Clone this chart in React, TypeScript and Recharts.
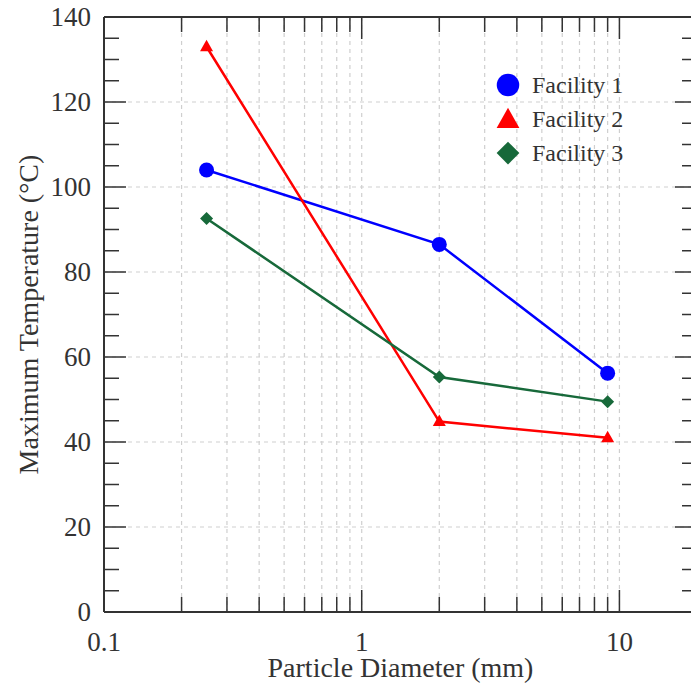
import { LineChart, Line, XAxis, YAxis, CartesianGrid, Legend, ReferenceLine } from 'recharts'

const diameters = [0.25, 2, 9]
const facility1 = [104, 86.5, 56.2]
const facility2 = [133, 44.8, 41]
const facility3 = [92.6, 55.3, 49.5]

const xTicks = [0.1, 0.2, 0.3, 0.4, 0.5, 0.6, 0.7, 0.8, 0.9, 1, 2, 3, 4, 5, 6, 7, 8, 9, 10, 20]
const xLabels = [0.1, 1, 10]
const xMajor = [0.1, 1, 10]
const xGrid = [0.2, 0.3, 0.4, 0.5, 0.6, 0.7, 0.8, 0.9, 1, 2, 3, 4, 5, 6, 7, 8, 9, 10]
const yTicks = [0, 5, 10, 15, 20, 25, 30, 35, 40, 45, 50, 55, 60, 65, 70, 75, 80, 85, 90, 95, 100, 105, 110, 115, 120, 125, 130, 135, 140]
const yLabels = [0, 20, 40, 60, 80, 100, 120, 140]
const yGrid = [20, 40, 60, 80, 100, 120]

const data = diameters.map((d, i) => ({
  x: d,
  f1: facility1[i],
  f2: facility2[i],
  f3: facility3[i],
}))

const SERIES = [
  { key: 'f1', name: 'Facility 1', color: '#0000ff', shape: 'circle' },
  { key: 'f2', name: 'Facility 2', color: '#ff0000', shape: 'triangle' },
  { key: 'f3', name: 'Facility 3', color: '#17693a', shape: 'diamond' },
]

const FONT = '"Liberation Serif", "Times New Roman", serif'
const AXIS = '#333'
const TEXT = '#333'
const GRID = '#cfcfcf'
const PLOT_W = 593
const PLOT_H = 595

function Marker({ shape, cx, cy, color, size = 1 }: { shape: string; cx: number; cy: number; color: string; size?: number }) {
  if (shape === 'circle') return <circle cx={cx} cy={cy} r={7.5 * size} fill={color} />
  if (shape === 'triangle') {
    const w = 6.5 * size
    const pts = `${cx},${cy - 7 * size} ${cx - w},${cy + 4.5 * size} ${cx + w},${cy + 4.5 * size}`
    return <polygon points={pts} fill={color} />
  }
  const h = 6.5 * size
  const pts = `${cx},${cy - h} ${cx + h},${cy} ${cx},${cy + h} ${cx - h},${cy}`
  return <polygon points={pts} fill={color} />
}

function XTick({ x, y, payload }: any) {
  const v = payload.value
  const len = xMajor.includes(v) ? 22 : 15
  return (
    <g>
      <line x1={x} y1={y} x2={x} y2={y - len} stroke={AXIS} strokeWidth={1.5} />
      <line x1={x} y1={y - PLOT_H} x2={x} y2={y - PLOT_H + len} stroke={AXIS} strokeWidth={1.5} />
      {xLabels.includes(v) && (
        <text x={x} y={y + 39} textAnchor="middle" fontSize={27} fontFamily={FONT} fill={TEXT}>
          {String(v)}
        </text>
      )}
    </g>
  )
}

function YTick({ x, y, payload }: any) {
  const v = payload.value
  const major = yLabels.includes(v)
  const len = major ? 22 : 15
  return (
    <g>
      <line x1={x} y1={y} x2={x + len} y2={y} stroke={AXIS} strokeWidth={1.5} />
      <line x1={x + PLOT_W} y1={y} x2={x + PLOT_W - len} y2={y} stroke={AXIS} strokeWidth={1.5} />
      {major && (
        <text x={x - 13} y={y + 9} textAnchor="end" fontSize={27} fontFamily={FONT} fill={TEXT}>
          {v}
        </text>
      )}
    </g>
  )
}

function YLabel({ viewBox }: any) {
  const cx = 28
  const cy = viewBox.y + viewBox.height / 2
  return (
    <text
      x={cx}
      y={cy}
      transform={`rotate(-90, ${cx}, ${cy})`}
      textAnchor="middle"
      dominantBaseline="central"
      fontSize={28}
      fontFamily={FONT}
      fill={TEXT}
    >
      Maximum Temperature (°C)
    </text>
  )
}

function LegendBox() {
  return (
    <div style={{ fontFamily: FONT, fontSize: 24, color: TEXT }}>
      {SERIES.map(s => (
        <div key={s.key} style={{ display: 'flex', alignItems: 'center', height: 34 }}>
          <svg width={28} height={28}>
            <Marker shape={s.shape} cx={14} cy={s.shape === 'triangle' ? 15 : 14} color={s.color} size={s.shape === 'circle' ? 1.5 : 1.75} />
          </svg>
          <span style={{ marginLeft: 10 }}>{s.name}</span>
        </div>
      ))}
    </div>
  )
}

export default function App() {
  return (
    <div style={{ position: 'absolute', left: 0, top: 0, width: 691, height: 693, overflow: 'hidden', background: '#fff' }}>
      <LineChart width={700} height={693} data={data} margin={{ top: 17, right: 3, bottom: 11, left: 4 }}>
        <CartesianGrid
          stroke={GRID}
          strokeDasharray="4 4"
          strokeWidth={1.2}
          verticalValues={xGrid}
          horizontalValues={yGrid}
        />
        <XAxis
          dataKey="x"
          type="number"
          scale="log"
          domain={[0.1, 20]}
          allowDataOverflow
          ticks={xTicks}
          interval={0}
          tickSize={0}
          tickMargin={0}
          tick={<XTick />}
          height={70}
          axisLine={{ stroke: AXIS, strokeWidth: 2 }}
          label={{
            value: 'Particle Diameter (mm)',
            position: 'insideBottom',
            offset: 5,
            fontSize: 28,
            fontFamily: FONT,
            fill: TEXT,
          }}
        />
        <YAxis
          type="number"
          domain={[0, 140]}
          ticks={yTicks}
          interval={0}
          tickSize={0}
          tickMargin={0}
          tick={<YTick />}
          width={100}
          axisLine={{ stroke: AXIS, strokeWidth: 2 }}
          label={{ content: YLabel }}
        />
        <ReferenceLine y={140} stroke={AXIS} strokeWidth={2} />
        <ReferenceLine x={20} stroke={AXIS} strokeWidth={2} />
        <Legend layout="vertical" align="center" verticalAlign="middle" content={<LegendBox />}
          wrapperStyle={{ position: 'absolute', left: 494, top: 68, width: 'auto', height: 'auto' }} />
        {SERIES.map(s => (
          <Line
            key={s.key}
            dataKey={s.key}
            name={s.name}
            type="linear"
            stroke={s.color}
            strokeWidth={2.5}
            isAnimationActive={false}
            dot={(p: any) => <Marker key={`${s.key}-${p.index}`} shape={s.shape} cx={p.cx} cy={p.cy} color={s.color} />}
            activeDot={false}
          />
        ))}
      </LineChart>
    </div>
  )
}
